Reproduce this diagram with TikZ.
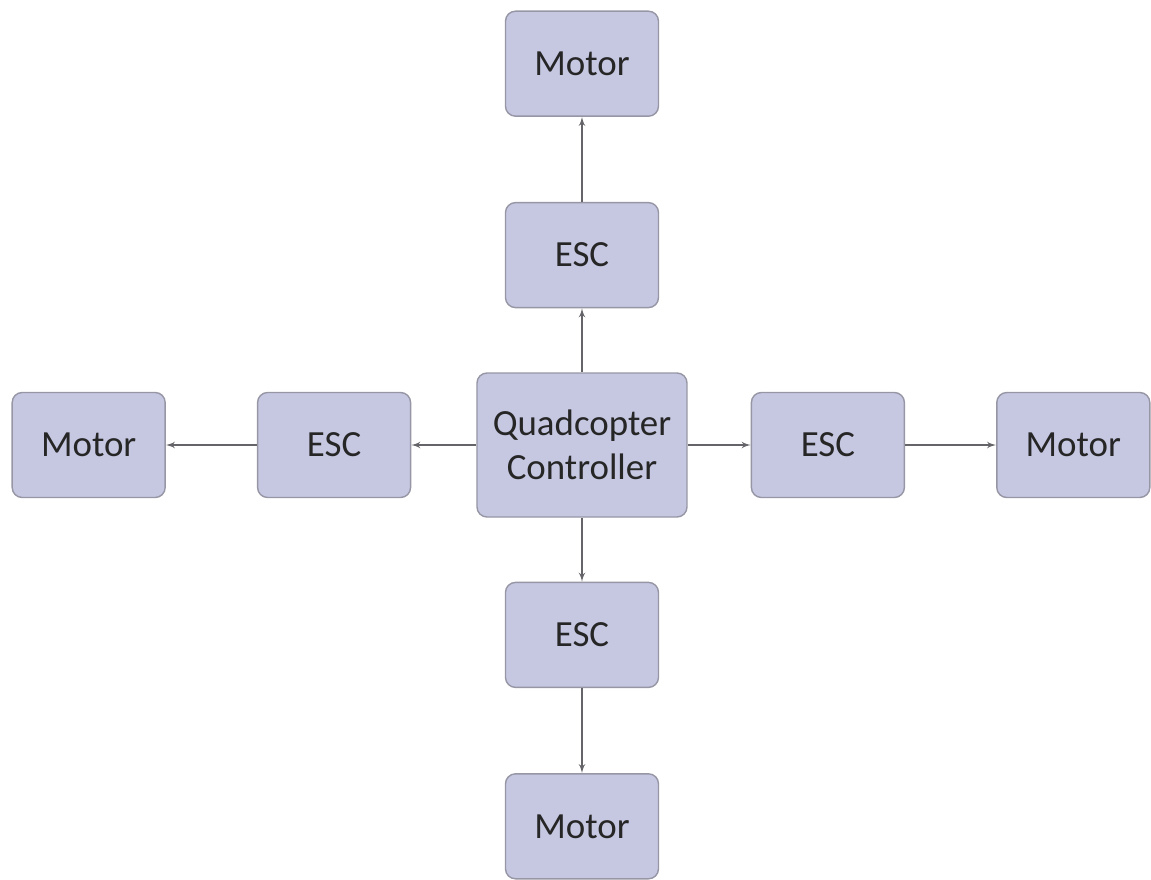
\documentclass[tikz,border=0pt]{standalone}
\usepackage{fontspec}
\setmainfont{Carlito}
\usetikzlibrary{shapes,arrows,positioning}
\definecolor{boxfill}{RGB}{198,200,226}
\definecolor{boxline}{RGB}{150,150,165}
\definecolor{linkgray}{RGB}{100,100,105}

\begin{document}
\begin{tikzpicture}[auto, >=latex', line width=0.8pt]
    % Estilos para los bloques
    \tikzstyle{block} = [draw=boxline, rectangle, fill=boxfill, minimum height=2.1cm, minimum width=3.06cm, align=center, rounded corners=0.2cm, font=\fontsize{21}{25}\selectfont, text=black!85]
    \tikzstyle{link} = [->, draw=linkgray, shorten >=0pt]

    \useasboundingbox (-11.64,8.90) rectangle (11.38,-8.70);

    % --- Controlador central ---
    \node [block, minimum width=4.2cm, minimum height=2.88cm] (ctrl) {Quadcopter\\ Controller};

    % --- ESCs alrededor ---
    \node [block, above=1.28cm of ctrl] (esc_top) {ESC};
    \node [block, below=1.28cm of ctrl] (esc_bot) {ESC};
    \node [block, left=1.30cm of ctrl] (esc_left) {ESC};
    \node [block, right=1.26cm of ctrl] (esc_right) {ESC};

    % --- Motores ---
    \node [block, above=1.70cm of esc_top] (mot_top) {Motor};
    \node [block, below=1.70cm of esc_bot] (mot_bot) {Motor};
    \node [block, left=1.82cm of esc_left] (mot_left) {Motor};
    \node [block, right=1.82cm of esc_right] (mot_right) {Motor};

    % --- Conexiones ---
    \draw [link] (ctrl) -- (esc_top);
    \draw [link] (ctrl) -- (esc_bot);
    \draw [link] (ctrl) -- (esc_left);
    \draw [link] (ctrl) -- (esc_right);

    \draw [link] (esc_top) -- (mot_top);
    \draw [link] (esc_bot) -- (mot_bot);
    \draw [link] (esc_left) -- (mot_left);
    \draw [link] (esc_right) -- (mot_right);

\end{tikzpicture}
\end{document}
